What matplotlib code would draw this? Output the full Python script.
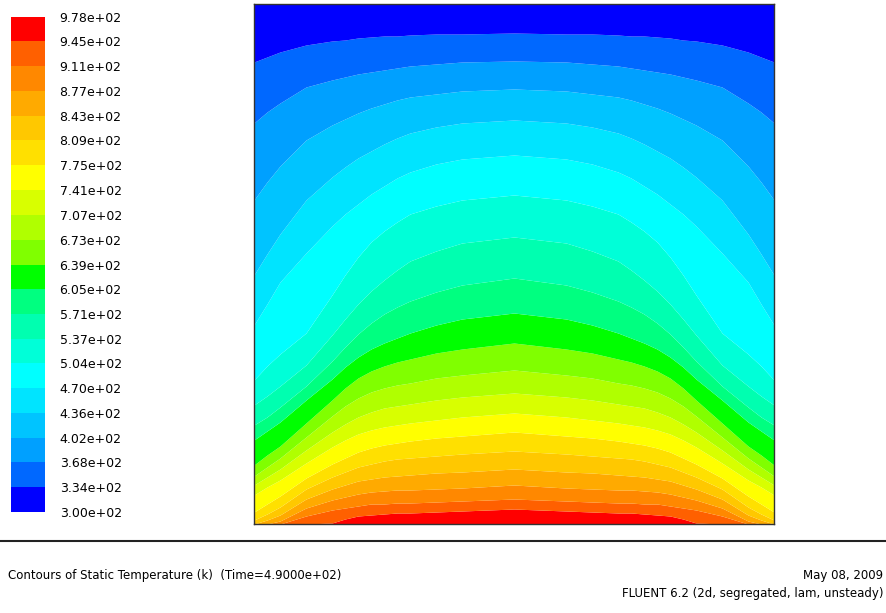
"""
plot.py
───────
FLUENT-style filled contour of static temperature in a square cavity
(hot bottom wall, cold lid), with the banded legend on the left.
"""

import numpy as np
import matplotlib
matplotlib.use("Agg")
import matplotlib.pyplot as plt

plt.rcParams.update({
    "font.family": "DejaVu Sans",
    "font.size": 9,
})

# ── data ──────────────────────────────────────────────────────────────────────

# contour levels (K), bottom of legend -> top
levels = [300, 334, 368, 402, 436, 470, 504, 537, 571, 605, 639,
          673, 707, 741, 775, 809, 843, 877, 911, 945, 978]

band_colors = ["#0000ff", "#0068ff", "#00a0ff", "#00c4ff", "#00e4ff",
               "#00ffff", "#00ffd8", "#00ffb0", "#00ff80", "#00ff00",
               "#80ff00", "#b0ff00", "#d8ff00", "#ffff00", "#ffe000",
               "#ffc800", "#ffaa00", "#ff8800", "#ff6000", "#ff0000"]

# cavity is 520 x 520 (mm); stations across the left half, mirrored about x=260
cavity = 520.0
stations = [0, 13, 26, 52, 78, 91, 104, 117, 130, 143, 156, 182, 208, 260]

# depth below the lid (mm) of each inner isotherm 334 ... 945 K at each station
iso_depth = [
    [58, 119, 196, 271, 321, 376, 401, 421, 436, 461, 472, 481, 491, 508, 516, 520, 520, 520, 520],
    [53, 108, 178, 250, 300, 362, 392, 413, 427, 451, 463, 473, 483, 500, 510, 516, 520, 520, 520],
    [48,  99, 162, 230, 278, 350, 382, 403, 418, 442, 454, 465, 476, 492, 503, 511, 517, 520, 520],
    [41,  83, 136, 196, 249, 329, 361, 382, 396, 419, 433, 446, 459, 474, 485, 495, 504, 512, 520],
    [37,  76, 121, 173, 222, 291, 331, 357, 375, 396, 412, 428, 443, 460, 473, 485, 496, 506, 519],
    [36,  73, 115, 163, 210, 271, 315, 343, 363, 384, 402, 420, 436, 454, 468, 481, 493, 504, 515],
    [34,  70, 109, 154, 200, 253, 300, 330, 353, 374, 394, 413, 430, 448, 463, 477, 490, 502, 512],
    [33,  68, 104, 147, 190, 238, 287, 319, 345, 367, 388, 408, 426, 444, 460, 475, 488, 500, 511],
    [32,  66, 100, 140, 182, 227, 276, 310, 339, 362, 384, 404, 423, 441, 457, 473, 487, 500, 510],
    [32,  64,  96, 134, 174, 218, 266, 303, 334, 358, 381, 402, 421, 439, 455, 472, 486, 499, 509],
    [31,  62,  93, 129, 168, 210, 257, 297, 329, 355, 379, 400, 419, 437, 454, 471, 486, 499, 509],
    [30,  60,  90, 123, 160, 202, 247, 288, 321, 349, 374, 396, 416, 434, 452, 469, 485, 498, 508],
    [30,  58,  87, 119, 155, 196, 239, 281, 315, 345, 371, 393, 413, 432, 450, 468, 484, 497, 507],
    [29,  57,  85, 116, 151, 191, 233, 274, 309, 339, 366, 389, 409, 428, 447, 465, 481, 495, 505],
]

title_text = "Contours of Static Temperature (k)  (Time=4.9000e+02)"
date_text = "May 08, 2009"
solver_text = "FLUENT 6.2 (2d, segregated, lam, unsteady)"

# ── figure ────────────────────────────────────────────────────────────────────

W, H = 886, 613
fig = plt.figure(figsize=(W / 100, H / 100), dpi=100)
fig.patch.set_facecolor("white")


def px_axes(x0, y0, x1, y1):
    """axes from pixel box (top-left origin)"""
    return fig.add_axes([x0 / W, 1 - y1 / H, (x1 - x0) / W, (y1 - y0) / H])


# contour field
ax = px_axes(254, 4, 774, 524)
xs_half = np.array(stations, dtype=float)
xs = np.concatenate([xs_half, cavity - xs_half[::-1][1:]])
depth = np.array(iso_depth, dtype=float)
depth = np.vstack([depth, depth[::-1][1:]])          # mirror right half
heights = cavity - depth                              # (n_x, 19)

top = np.full(len(xs), cavity)
bottom = np.zeros(len(xs))
# bounds[0] = floor, bounds[-1] = lid; band i lies between bounds[i] and bounds[i+1]
bounds = [bottom] + [heights[:, k] for k in range(heights.shape[1] - 1, -1, -1)] + [top]
for i, c in enumerate(band_colors[::-1]):
    ax.fill_between(xs, bounds[i], bounds[i + 1], color=c, linewidth=0)
ax.set_xlim(0, cavity)
ax.set_ylim(0, cavity)
ax.set_xticks([])
ax.set_yticks([])
for s in ax.spines.values():
    s.set_color("#333333")
    s.set_linewidth(1.0)

# legend bar
cax = px_axes(11, 17, 45, 512)
lv = np.array(levels, dtype=float)
cax.bar(0, np.diff(lv), bottom=lv[:-1], width=1.0, color=band_colors,
        linewidth=0, align="center")
cax.set_xlim(-0.5, 0.5)
cax.set_ylim(lv[0], lv[-1])
cax.set_xticks([])
cax.yaxis.tick_right()
cax.set_yticks(lv)
cax.set_yticklabels([f"{v:.2e}" for v in levels])
cax.tick_params(axis="y", length=0, pad=10.5, labelsize=9)
for s in cax.spines.values():
    s.set_visible(False)

# footer
fig.add_artist(plt.Line2D([0, 1], [1 - 541 / H] * 2, color="#222222",
                          linewidth=1.5, transform=fig.transFigure))
fig.text(8 / W, 1 - 576 / H, title_text, ha="left", va="center", fontsize=8.5)
fig.text(883 / W, 1 - 576 / H, date_text, ha="right", va="center", fontsize=8.5)
fig.text(883 / W, 1 - 593 / H, solver_text, ha="right", va="center", fontsize=8.5)

fig.savefig("out.png", dpi=100)
